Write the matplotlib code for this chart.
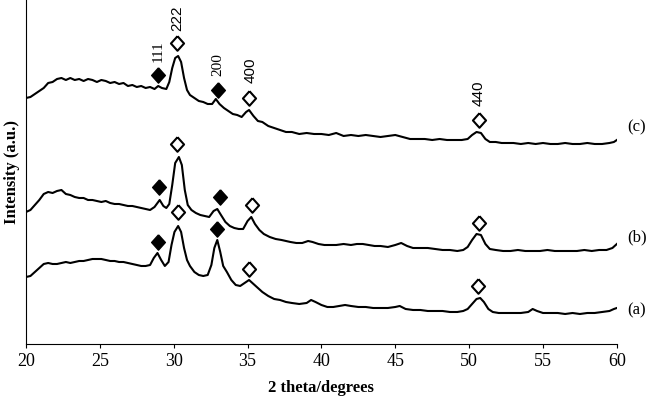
import matplotlib
matplotlib.use("Agg")
import matplotlib.pyplot as plt

# XRD patterns, 2 theta (degrees) vs intensity (a.u., curves stacked)
tt_c = [20.0, 20.3, 20.6, 20.9, 21.2, 21.5, 21.8, 22.1, 22.4, 22.7,
        23.0, 23.3, 23.6, 23.9, 24.2, 24.5, 24.8, 25.1, 25.4, 25.7,
        26.0, 26.3, 26.6, 26.9, 27.2, 27.5, 27.8, 28.1, 28.4, 28.7,
        28.95, 29.2, 29.5, 29.7, 29.9, 30.1, 30.3, 30.5, 30.7, 30.9,
        31.1, 31.4, 31.7, 32.0, 32.3, 32.6, 32.85, 33.1, 33.4, 33.7,
        34.0, 34.3, 34.6, 34.9, 35.1, 35.4, 35.7, 36.0, 36.4, 36.8,
        37.2, 37.6, 38.0, 38.5, 39.0, 39.5, 40.0, 40.5, 41.0, 41.5,
        42.0, 42.5, 43.0, 43.5, 44.0, 44.5, 45.0, 45.5, 46.0, 46.5,
        47.0, 47.5, 48.0, 48.5, 49.0, 49.5, 49.9, 50.2, 50.5, 50.8,
        51.1, 51.4, 51.8, 52.2, 52.6, 53.0, 53.5, 54.0, 54.5, 55.0,
        55.5, 56.0, 56.5, 57.0, 57.5, 58.0, 58.5, 59.0, 59.5, 59.8,
        60.0]
int_c = [246, 247, 250, 253, 256, 261, 262, 265, 266, 264,
         266, 264, 265, 263, 265, 264, 262, 264, 263, 261,
         262, 260, 261, 258, 259, 257, 258, 256, 257, 255,
         258, 256, 255, 262, 276, 286, 288, 282, 266, 254,
         249, 246, 243, 242, 240, 240, 245, 240, 236, 233,
         230, 229, 227, 232, 234, 228, 223, 222, 218, 216,
         214, 212, 212, 210, 211, 210, 210, 209, 211, 208,
         209, 208, 209, 208, 207, 208, 209, 207, 205, 205,
         205, 204, 205, 204, 204, 204, 205, 209, 212, 211,
         205, 202, 202, 201, 201, 201, 200, 201, 200, 201,
         200, 200, 201, 200, 200, 201, 200, 200, 201, 202,
         204]

tt_b = [20.0, 20.3, 20.6, 20.9, 21.2, 21.5, 21.8, 22.1, 22.4, 22.7,
        23.0, 23.3, 23.6, 23.9, 24.2, 24.5, 24.8, 25.1, 25.4, 25.7,
        26.0, 26.3, 26.6, 26.9, 27.2, 27.5, 27.8, 28.1, 28.4, 28.7,
        29.05, 29.3, 29.5, 29.7, 29.9, 30.1, 30.35, 30.55, 30.75, 30.95,
        31.2, 31.5, 31.8, 32.1, 32.4, 32.7, 32.95, 33.2, 33.5, 33.8,
        34.1, 34.4, 34.7, 35.0, 35.25, 35.5, 35.8, 36.1, 36.5, 36.9,
        37.3, 37.6, 37.9, 38.3, 38.7, 39.1, 39.4, 39.8, 40.2, 40.6,
        41.0, 41.5, 42.0, 42.4, 42.8, 43.2, 43.6, 44.0, 44.5, 45.0,
        45.4, 45.8, 46.2, 46.7, 47.2, 47.7, 48.2, 48.7, 49.2, 49.6,
        49.9, 50.2, 50.5, 50.8, 51.1, 51.4, 51.8, 52.3, 52.8, 53.3,
        53.8, 54.3, 54.8, 55.3, 55.8, 56.3, 56.8, 57.3, 57.8, 58.3,
        58.8, 59.3, 59.7, 60.0]
int_b = [132, 134, 139, 144, 150, 152, 151, 153, 154, 150,
         149, 147, 146, 146, 144, 144, 143, 142, 143, 141,
         140, 140, 139, 138, 138, 137, 136, 135, 134, 137,
         144, 138, 136, 140, 159, 181, 187, 179, 154, 139,
         134, 131, 129, 128, 127, 133, 135, 129, 122, 118,
         116, 115, 115, 123, 127, 120, 114, 110, 107, 105,
         104, 103, 102, 101, 101, 103, 102, 100, 99, 99,
         99, 100, 99, 100, 100, 99, 98, 98, 97, 99,
         101, 98, 96, 96, 96, 95, 94, 94, 93, 94,
         97, 104, 110, 109, 100, 95, 94, 93, 93, 94,
         93, 93, 93, 94, 93, 93, 93, 93, 94, 93,
         94, 94, 96, 100]

tt_a = [20.0, 20.3, 20.6, 20.9, 21.2, 21.5, 21.8, 22.1, 22.4, 22.7,
        23.0, 23.3, 23.6, 23.9, 24.2, 24.5, 24.8, 25.1, 25.4, 25.7,
        26.0, 26.3, 26.6, 26.9, 27.2, 27.5, 27.8, 28.1, 28.4, 28.65,
        28.9, 29.15, 29.4, 29.65, 29.85, 30.05, 30.3, 30.5, 30.7, 30.9,
        31.1, 31.4, 31.7, 32.0, 32.3, 32.55, 32.75, 32.95, 33.15, 33.35,
        33.6, 33.9, 34.2, 34.5, 34.8, 35.1, 35.4, 35.7, 36.0, 36.4,
        36.8, 37.2, 37.6, 38.0, 38.5, 39.0, 39.3, 39.6, 40.0, 40.4,
        40.8, 41.2, 41.6, 42.0, 42.5, 43.0, 43.5, 44.0, 44.5, 45.0,
        45.3, 45.7, 46.2, 46.7, 47.2, 47.7, 48.2, 48.7, 49.2, 49.6,
        49.9, 50.2, 50.5, 50.75, 51.0, 51.3, 51.6, 52.0, 52.5, 53.0,
        53.5, 54.0, 54.3, 54.6, 55.0, 55.5, 56.0, 56.5, 57.0, 57.5,
        58.0, 58.5, 59.0, 59.5, 59.8, 60.0]
int_a = [67, 68, 72, 76, 80, 81, 80, 80, 81, 82,
         81, 82, 83, 83, 84, 85, 85, 85, 84, 83,
         83, 82, 82, 81, 80, 79, 78, 78, 79, 86,
         91, 84, 78, 82, 99, 112, 118, 112, 96, 84,
         78, 72, 69, 68, 69, 79, 96, 104, 92, 78,
         72, 64, 59, 58, 61, 64, 60, 56, 52, 48,
         45, 44, 42, 41, 40, 41, 44, 42, 39, 37,
         37, 38, 39, 38, 37, 37, 36, 36, 36, 37,
         38, 35, 34, 34, 33, 33, 33, 32, 32, 33,
         35, 40, 45, 46, 42, 35, 32, 31, 31, 31,
         31, 32, 35, 33, 31, 31, 31, 30, 31, 30,
         31, 31, 32, 33, 35, 36]

# peak markers: filled = one phase, open = the other
filled_x = [28.93, 33.0, 29.02, 33.13, 28.91, 32.91]
filled_y = [269, 254, 157, 147, 102, 115]
open_x = [30.22, 35.1, 50.66, 30.20, 35.28, 50.68, 30.31, 35.11, 50.61]
open_y = [301, 246, 224, 200, 139, 121, 132, 75, 58]

# hkl labels over curve (c)
hkl = ["111", "222", "200", "400", "440"]
hkl_x = [28.93, 30.26, 33.0, 35.23, 50.66]
hkl_y = [293, 326, 279, 274, 251]
hkl_serif = [True, False, True, False, False]

curve_names = ["(c)", "(b)", "(a)"]
curve_name_y = [217, 107, 34]

# diamond a little taller than wide
diamond = [(0, 1), (0.9, 0), (0, -1), (-0.9, 0), (0, 1)]

fig = plt.figure(figsize=(6.5, 3.98), dpi=100)
ax = fig.add_axes([0.04, 0.1357, 0.909, 0.8643])

for tt, inten in [(tt_c, int_c), (tt_b, int_b), (tt_a, int_a)]:
    ax.plot(tt, inten, color="black", lw=1.5)

ax.plot(filled_x, filled_y, marker=diamond, ms=11, mfc="black", mec="black",
        mew=1.0, ls="none")
ax.plot(open_x, open_y, marker=diamond, ms=10.5, mfc="white", mec="black",
        mew=1.5, ls="none")

for lab, x, y, serif in zip(hkl, hkl_x, hkl_y, hkl_serif):
    fam = "Liberation Serif" if serif else "Liberation Sans"
    ax.text(x, y, lab, rotation=90, ha="center", va="center", fontsize=11,
            family=fam)

for name, y in zip(curve_names, curve_name_y):
    ax.text(61.35, y, name, ha="center", va="center", fontsize=12,
            family="Liberation Serif", clip_on=False)

ax.set_xlim(20, 60)
ax.set_ylim(0, 344)
ax.set_xticks(range(20, 61, 5))
ax.set_yticks([])
ax.spines["top"].set_visible(False)
ax.spines["right"].set_visible(False)
ax.tick_params(axis="x", direction="out", length=3, labelsize=13)
for t in ax.get_xticklabels():
    t.set_family("Liberation Serif")

ax.set_xlabel("2 theta/degrees", fontsize=12, fontweight="bold",
              family="Liberation Serif", labelpad=7)
ax.set_ylabel("Intensity (a.u.)", fontsize=12, fontweight="bold",
              family="Liberation Serif", labelpad=4)

fig.savefig("out.png", dpi=100)
